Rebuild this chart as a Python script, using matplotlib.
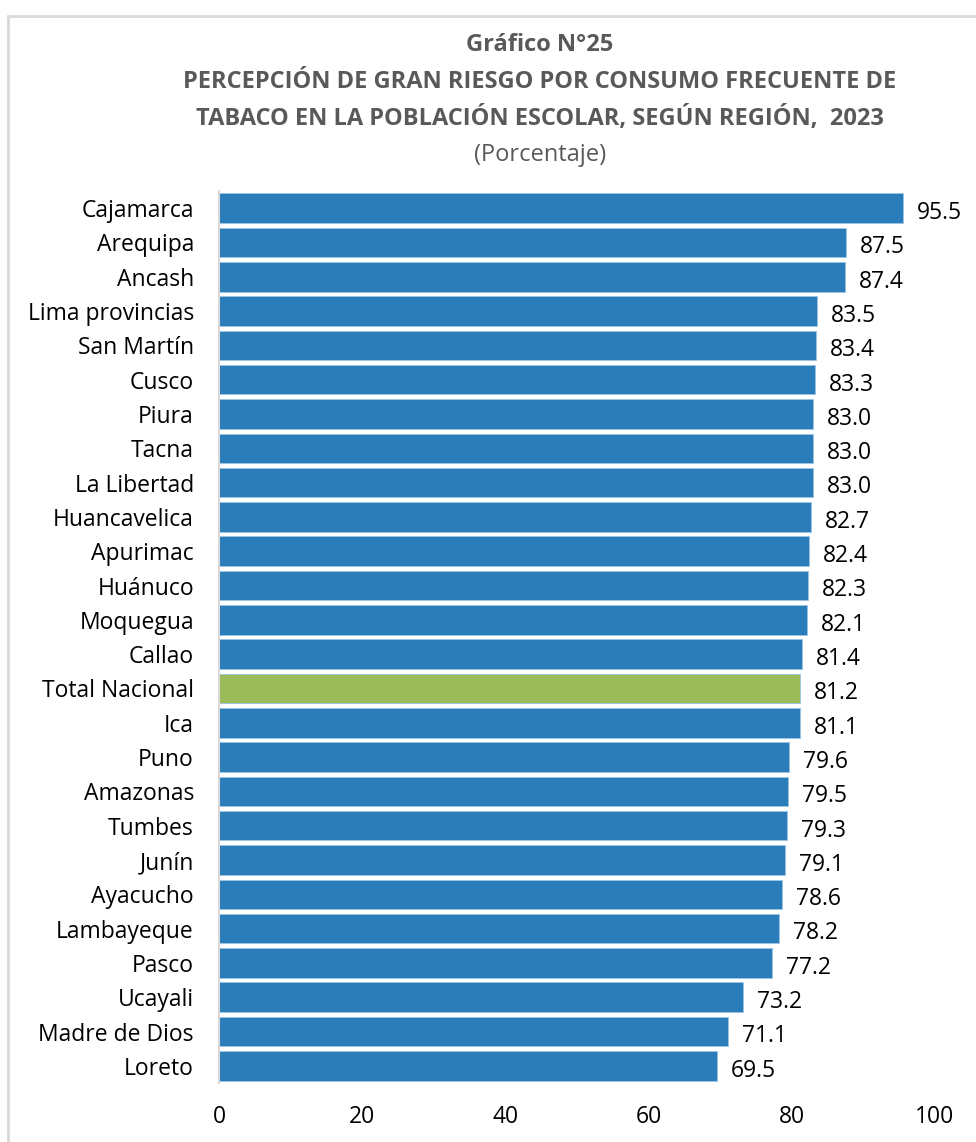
import matplotlib
matplotlib.use("Agg")
import matplotlib.pyplot as plt
from matplotlib.patches import Rectangle

# ====================================
# DATA
# ====================================

regions = [
    "Cajamarca", "Arequipa", "Ancash", "Lima provincias", "San Martín",
    "Cusco", "Piura", "Tacna", "La Libertad", "Huancavelica",
    "Apurimac", "Huánuco", "Moquegua", "Callao", "Total Nacional",
    "Ica", "Puno", "Amazonas", "Tumbes", "Junín",
    "Ayacucho", "Lambayeque", "Pasco", "Ucayali", "Madre de Dios", "Loreto",
]
values = [
    95.5, 87.5, 87.4, 83.5, 83.4,
    83.3, 83.0, 83.0, 83.0, 82.7,
    82.4, 82.3, 82.1, 81.4, 81.2,
    81.1, 79.6, 79.5, 79.3, 79.1,
    78.6, 78.2, 77.2, 73.2, 71.1, 69.5,
]
x_ticks = [0, 20, 40, 60, 80, 100]

title_lines = [
    "Gráfico N°25",
    "PERCEPCIÓN DE GRAN RIESGO POR CONSUMO FRECUENTE DE",
    "TABACO EN LA POBLACIÓN ESCOLAR, SEGÚN REGIÓN,  2023",
]
subtitle = "(Porcentaje)"

# ====================================
# STYLE
# ====================================

plt.rcParams['font.family'] = ['Open Sans', 'DejaVu Sans']

blue = '#2b7dba'
green = '#9bbb59'
title_color = '#595959'
fs = 16.5

W, H = 976, 1142
fig = plt.figure(figsize=(W / 100, H / 100), dpi=100)

# outer frame (left and top edges visible)
fig.patches.append(Rectangle((8 / W, -0.1), 1.2, 1 - 16 / H + 0.1,
                             transform=fig.transFigure, fill=False,
                             edgecolor='#d9d9d9', linewidth=2))

ax_left, ax_right = 219 / W, 935 / W
ax_top, ax_bottom = 1 - 191 / H, 1 - 1083 / H
ax = fig.add_axes([ax_left, ax_bottom, ax_right - ax_left, ax_top - ax_bottom])

colors = [green if r == "Total Nacional" else blue for r in regions]
ypos = list(range(len(regions)))
ax.barh(ypos, values, height=0.86, color=colors, edgecolor='#9cc3e4', linewidth=0.6)

for y, v in zip(ypos, values):
    ax.annotate(f"{v:.1f}", xy=(v, y), xytext=(10, -3.5), textcoords='offset points',
                ha='left', va='center', fontsize=fs, color='black')

ax.set_xlim(0, 100)
ax.set_ylim(len(regions) - 0.5, -0.5)
ax.set_xticks(x_ticks)
ax.set_xticklabels([str(t) for t in x_ticks])
ax.set_yticks(ypos)
ax.set_yticklabels(regions)
ax.tick_params(axis='both', length=0, labelsize=fs, colors='black')
ax.tick_params(axis='y', pad=18)
ax.tick_params(axis='x', pad=16)

for s in ['top', 'right', 'bottom']:
    ax.spines[s].set_visible(False)
ax.spines['left'].set_color('#d9d9d9')
ax.spines['left'].set_linewidth(1.5)

# ====================================
# TITLES
# ====================================

cx = 540 / W
title_y = [45, 82, 118]
for line, y in zip(title_lines, title_y):
    fig.text(cx, 1 - y / H, line, ha='center', va='center', fontsize=17,
             fontweight='bold', color=title_color)
fig.text(cx, 1 - 155 / H, subtitle, ha='center', va='center', fontsize=17,
         color=title_color)

fig.savefig("out.png", dpi=100)
plt.close(fig)
